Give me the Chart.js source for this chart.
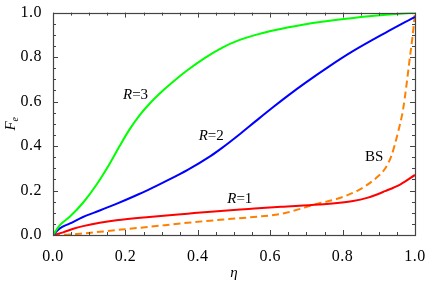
<!DOCTYPE html>
<html>
<head>
<meta charset="utf-8">
<script src="https://cdn.jsdelivr.net/npm/chart.js@4"></script>
<style>
html,body{margin:0;padding:0;background:#fff;}
#wrap{width:429px;height:285px;}
</style>
</head>
<body>
<div id="wrap"><canvas id="c" width="429" height="285"></canvas></div>
<script>
// ---- data ----
const r3Eta = [0, 0.019, 0.047, 0.083, 0.12, 0.157, 0.184, 0.212, 0.239, 0.266, 0.294, 0.33, 0.372, 0.422, 0.468, 0.514, 0.56, 0.651, 0.743, 0.83, 0.92, 1.0];
const r3F   = [0, 0.044, 0.083, 0.145, 0.226, 0.322, 0.400, 0.476, 0.538, 0.589, 0.635, 0.687, 0.742, 0.799, 0.843, 0.876, 0.900, 0.934, 0.959, 0.976, 0.990, 1.0];

const r2Eta = [0, 0.019, 0.047, 0.083, 0.129, 0.175, 0.221, 0.266, 0.312, 0.372, 0.436, 0.468, 0.514, 0.56, 0.605, 0.651, 0.697, 0.761, 0.825, 0.917, 1.0];
const r2F   = [0, 0.030, 0.052, 0.081, 0.110, 0.140, 0.172, 0.205, 0.242, 0.293, 0.356, 0.393, 0.451, 0.512, 0.571, 0.629, 0.684, 0.756, 0.823, 0.908, 0.981];

const r1Eta = [0, 0.028, 0.056, 0.083, 0.129, 0.175, 0.266, 0.372, 0.445, 0.54, 0.63, 0.734, 0.825, 0.87, 0.917, 0.96, 1.0];
const r1F   = [0, 0.012, 0.028, 0.040, 0.055, 0.066, 0.081, 0.096, 0.106, 0.117, 0.127, 0.137, 0.152, 0.168, 0.197, 0.228, 0.27];

const bsEta = [0, 0.047, 0.083, 0.175, 0.266, 0.372, 0.445, 0.54, 0.63, 0.734, 0.788, 0.843, 0.885, 0.917, 0.935, 0.953, 0.967, 0.976, 0.985, 0.993, 1.0];
const bsF   = [0, 0.002, 0.007, 0.022, 0.037, 0.055, 0.066, 0.079, 0.095, 0.142, 0.164, 0.201, 0.246, 0.298, 0.357, 0.461, 0.564, 0.668, 0.787, 0.89, 1.0];

const xTickValues = [0, 0.2, 0.4, 0.6, 0.8, 1.0];
const yTickValues = [0, 0.2, 0.4, 0.6, 0.8, 1.0];
const xTitle = "η";
const yTitleMain = "F";
const yTitleSub = "e";

// curve labels: [italic part, upright part, eta, F]
const curveLabels = [
  ["R", "=3", 0.228, 0.631],
  ["R", "=2", 0.437, 0.444],
  ["R", "=1", 0.516, 0.160],
  ["", "BS", 0.887, 0.351]
];

const pts = (xs, ys) => xs.map((x, i) => ({x: x, y: ys[i]}));
const SERIF = "'Liberation Serif', serif";

const spacingPlugin = {
  id: 'spacing',
  beforeDraw(chart) { chart.ctx.letterSpacing = '0.5px'; },
  afterDraw(chart) { chart.ctx.letterSpacing = '0px'; }
};

const framePlugin = {
  id: 'frame',
  afterDatasetsDraw(chart) {
    const {ctx, chartArea: a, scales: {x, y}} = chart;
    ctx.save();
    ctx.letterSpacing = '0px';
    ctx.strokeStyle = '#444';
    ctx.lineWidth = 1;
    for (let i = 0; i <= 20; i++) {
      const v = i * 0.05;
      const major = (i % 4 === 0);
      const len = major ? 5 : 3;
      const px = Math.round(x.getPixelForValue(v)) + 0.5;
      const py = Math.round(y.getPixelForValue(v)) + 0.5;
      ctx.beginPath();
      ctx.moveTo(px, a.bottom); ctx.lineTo(px, a.bottom - len);
      ctx.moveTo(px, a.top); ctx.lineTo(px, a.top + len);
      ctx.moveTo(a.left, py); ctx.lineTo(a.left + len, py);
      ctx.moveTo(a.right, py); ctx.lineTo(a.right - len, py);
      ctx.stroke();
    }
    ctx.lineWidth = 1.2;
    ctx.strokeRect(Math.round(a.left) + 0.5, Math.round(a.top) + 0.5,
                   Math.round(a.right - a.left), Math.round(a.bottom - a.top));

    ctx.fillStyle = '#000';
    ctx.textBaseline = 'middle';
    curveLabels.forEach(([it, up, ex, fy]) => {
      ctx.font = 'italic 15px ' + SERIF;
      const w1 = ctx.measureText(it).width;
      ctx.font = '15px ' + SERIF;
      const w2 = ctx.measureText(up).width;
      const cx = x.getPixelForValue(ex);
      const cy = y.getPixelForValue(fy);
      const sx = cx - (w1 + w2) / 2;
      ctx.textAlign = 'left';
      ctx.font = 'italic 15px ' + SERIF;
      ctx.fillText(it, sx, cy);
      ctx.font = '15px ' + SERIF;
      ctx.fillText(up, sx + w1, cy);
    });

    ctx.font = 'italic 15px ' + SERIF;
    ctx.textAlign = 'center';
    ctx.textBaseline = 'alphabetic';
    ctx.fillText(xTitle, (a.left + a.right) / 2, 277);

    ctx.translate(15, (a.top + a.bottom) / 2);
    ctx.rotate(-Math.PI / 2);
    ctx.font = 'italic 15px ' + SERIF;
    const wF = ctx.measureText(yTitleMain).width;
    ctx.font = 'italic 10px ' + SERIF;
    const wE = ctx.measureText(yTitleSub).width;
    const start = -(wF + wE) / 2;
    ctx.textAlign = 'left';
    ctx.font = 'italic 15px ' + SERIF;
    ctx.fillText(yTitleMain, start, 0);
    ctx.font = 'italic 10px ' + SERIF;
    ctx.fillText(yTitleSub, start + wF, 3);
    ctx.restore();
  }
};

const lineDs = (label, data, color, dash) => ({
  label: label,
  data: data,
  borderColor: color,
  backgroundColor: color,
  borderWidth: 2,
  borderDash: dash || [],
  pointRadius: 0,
  fill: false,
  cubicInterpolationMode: 'monotone'
});

new Chart(document.getElementById('c'), {
  type: 'line',
  data: {
    datasets: [
      lineDs('R=3', pts(r3Eta, r3F), '#00ff00'),
      lineDs('R=2', pts(r2Eta, r2F), '#0000ff'),
      lineDs('R=1', pts(r1Eta, r1F), '#ff0000'),
      lineDs('BS', pts(bsEta, bsF), '#ff8000', [7, 4])
    ]
  },
  options: {
    responsive: false,
    animation: false,
    devicePixelRatio: 1,
    layout: {padding: {left: 0, right: 12, top: 10, bottom: 0}},
    plugins: {legend: {display: false}, tooltip: {enabled: false}},
    scales: {
      x: {
        type: 'linear', min: 0, max: 1,
        afterBuildTicks: (s) => { s.ticks = xTickValues.map(v => ({value: v})); },
        afterFit: (s) => { s.height = 50; },
        grid: {display: false},
        border: {display: false},
        ticks: {
          color: '#000', padding: 4, maxRotation: 0, autoSkip: false,
          font: {family: SERIF, size: 16},
          callback: (v) => Number(v).toFixed(1)
        }
      },
      y: {
        type: 'linear', min: 0, max: 1,
        afterBuildTicks: (s) => { s.ticks = yTickValues.map(v => ({value: v})); },
        afterFit: (s) => { s.width = 53; },
        grid: {display: false},
        border: {display: false},
        ticks: {
          color: '#000', padding: 3, autoSkip: false,
          font: {family: SERIF, size: 16},
          callback: (v) => Number(v).toFixed(1)
        }
      }
    }
  },
  plugins: [spacingPlugin, framePlugin]
});
</script>
</body>
</html>
